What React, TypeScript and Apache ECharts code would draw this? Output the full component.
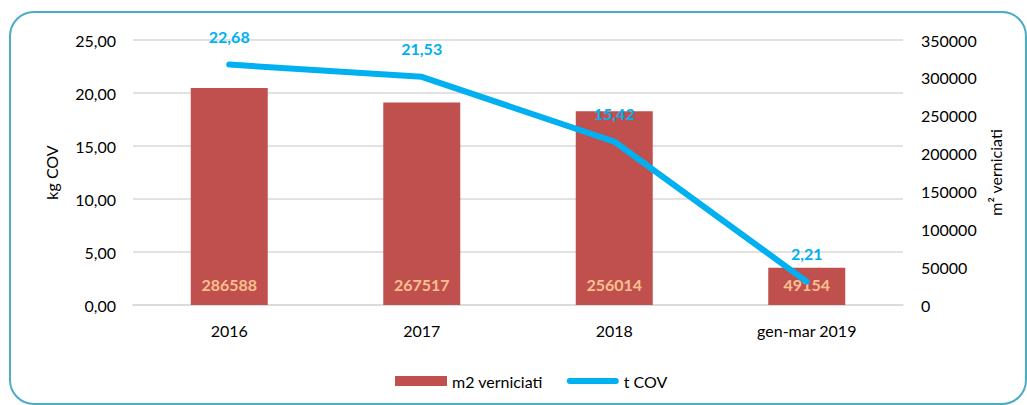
import React, { useEffect, useRef } from "react";
import * as echarts from "echarts";

const categories = ["2016", "2017", "2018", "gen-mar 2019"];
const m2Verniciati = [286588, 267517, 256014, 49154];
const tCov = [22.68, 21.53, 15.42, 2.21];
const leftTicks = { min: 0, max: 25, interval: 5 };
const rightTicks = { min: 0, max: 350000, interval: 50000 };

const FONT = "Lato, 'Noto Sans', sans-serif";
const FS = 16;

export default function App() {
  const ref = useRef<HTMLDivElement>(null);
  useEffect(() => {
    document.body.style.margin = "0";
    if (!ref.current) return;
    const chart = echarts.init(ref.current, undefined, { renderer: "svg" });
    chart.setOption({
      animation: false,
      backgroundColor: "#ffffff",
      textStyle: { fontFamily: FONT },
      graphic: [
        {
          type: "rect",
          shape: { x: 10, y: 12, width: 1016, height: 392, r: 24 },
          style: { fill: "none", stroke: "#4BACC6", lineWidth: 2 },
          silent: true,
          z: -1,
        },
      ],
      grid: { left: 133, right: 124, top: 40, bottom: 100, containLabel: false },
      legend: {
        left: 390,
        top: 368,
        itemWidth: 52,
        itemHeight: 10,
        itemGap: 24,
        symbolKeepAspect: true,
        itemStyle: { borderWidth: 0 },
        textStyle: { fontFamily: FONT, fontSize: FS, color: "#000" },
        data: [
          { name: "m2 verniciati", icon: "rect" },
          {
            name: "t COV",
            icon: "path://M3,0 L49,0 A3,3 0 0 1 49,6 L3,6 A3,3 0 0 1 3,0 Z",
          },
        ],
      },
      xAxis: {
        type: "category",
        data: categories,
        axisTick: { show: false },
        axisLine: { lineStyle: { color: "#D9D9D9", width: 1.5 } },
        axisLabel: { color: "#000", fontSize: FS, margin: 17, fontFamily: FONT },
      },
      yAxis: [
        {
          type: "value",
          min: leftTicks.min,
          max: leftTicks.max,
          interval: leftTicks.interval,
          name: "kg COV",
          nameLocation: "middle",
          nameRotate: 90,
          nameGap: 74,
          nameTextStyle: { color: "#000", fontSize: FS, fontFamily: FONT },
          axisLabel: {
            color: "#000",
            fontSize: FS,
            margin: 17,
            fontFamily: FONT,
            formatter: (v: number) => v.toFixed(2).replace(".", ","),
          },
          splitLine: { lineStyle: { color: "#D9D9D9", width: 1.5 } },
          axisLine: { show: false },
          axisTick: { show: false },
        },
        {
          type: "value",
          position: "right",
          min: rightTicks.min,
          max: rightTicks.max,
          interval: rightTicks.interval,
          name: "m² verniciati",
          nameLocation: "middle",
          nameRotate: 90,
          nameGap: 83,
          nameTextStyle: { color: "#000", fontSize: FS, fontFamily: FONT },
          axisLabel: {
            color: "#000",
            fontSize: FS,
            margin: 18,
            fontFamily: FONT,
            formatter: (v: number) => String(v),
          },
          splitLine: { show: false },
          axisLine: { show: false },
          axisTick: { show: false },
        },
      ],
      series: [
        {
          name: "m2 verniciati",
          type: "bar",
          yAxisIndex: 1,
          data: m2Verniciati,
          barWidth: "40%",
          itemStyle: { color: "#C0504D" },
          label: {
            show: true,
            position: "insideBottom",
            distance: 13,
            color: "#FAC090",
            fontWeight: "bold",
            fontSize: FS,
            fontFamily: FONT,
          },
        },
        {
          name: "t COV",
          type: "line",
          yAxisIndex: 0,
          data: tCov,
          symbol: "circle",
          symbolSize: 1,
          showSymbol: true,
          lineStyle: { color: "#00B0F0", width: 6, cap: "round", join: "round" },
          itemStyle: { color: "#00B0F0" },
          label: {
            show: true,
            position: "top",
            distance: 20,
            color: "#00B0F0",
            fontWeight: "bold",
            fontSize: FS,
            fontFamily: FONT,
            formatter: (p: any) => Number(p.value).toFixed(2).replace(".", ","),
          },
          z: 3,
        },
      ],
    });
    return () => chart.dispose();
  }, []);
  return <div ref={ref} style={{ width: 1027, height: 405 }} />;
}
